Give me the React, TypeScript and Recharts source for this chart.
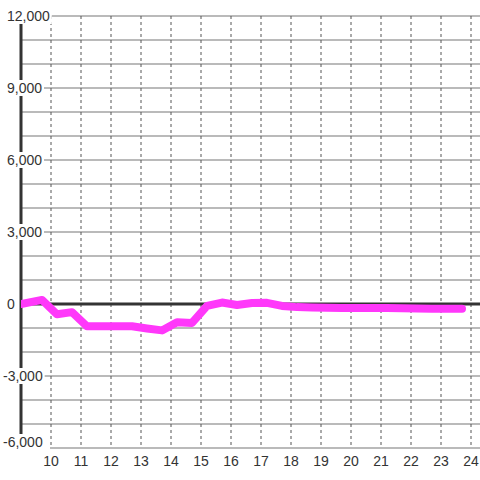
import React from 'react';
import { LineChart, Line, XAxis, YAxis, CartesianGrid, ReferenceLine } from 'recharts';

const hours = [9.0, 9.7, 10.2, 10.7, 11.2, 11.7, 12.2, 12.7, 13.2, 13.7, 14.2, 14.7, 15.2, 15.7, 16.2, 16.7, 17.2, 17.7, 18.2, 18.7, 19.2, 19.7, 20.2, 20.7, 21.2, 21.7, 22.2, 22.7, 23.2, 23.7];
const values = [0, 170, -430, -340, -930, -930, -930, -930, -1020, -1100, -760, -790, -80, 60, -40, 40, 50, -80, -130, -150, -160, -170, -170, -170, -170, -180, -190, -200, -200, -200];

const xTicks = [10, 11, 12, 13, 14, 15, 16, 17, 18, 19, 20, 21, 22, 23, 24];
const yLabelTicks = [-6000, -3000, 0, 3000, 6000, 9000, 12000];
const yGridValues = [-6000, -5000, -4000, -3000, -2000, -1000, 0, 1000, 2000, 3000, 4000, 5000, 6000, 7000, 8000, 9000, 10000, 11000, 12000];
const yDomain = [-6000, 12000];
const xDomain = [9, 24.3];

const data = hours.map((h, i) => ({ h, v: values[i] }));

const FONT = '"Liberation Sans", Arial, sans-serif';

const charW: Record<string, number> = { '-': 4.66, ',': 3.89 };
const textWidth = (s: string) => s.split('').reduce((a, c) => a + (charW[c] ?? 7.78), 0);

const renderYTick = (props: any) => {
  const { y, payload } = props;
  const val = Number(payload.value);
  const label = val.toLocaleString('en-US');
  const tx = val < 0 ? 3 : 7;
  const cy = val === yDomain[0] ? y - 6 : y;
  const w = textWidth(label);
  const rectW = val === yDomain[0] ? 50 - (tx - 1) : w + 3;
  return (
    <g key={`yt-${val}`}>
      <rect x={tx - 1} y={cy - 8} width={rectW} height={16} fill="#ffffff" />
      <text x={tx} y={cy} dy="0.36em" textAnchor="start" fontSize={14} fill="#333333" fontFamily={FONT}>
        {label}
      </text>
    </g>
  );
};

export default function App() {
  return (
    <div style={{ position: 'absolute', left: 0, top: 0, width: 480, height: 480, background: '#fff', fontFamily: FONT }}>
      <LineChart width={480} height={480} data={data} margin={{ top: 16, right: 0, left: 0, bottom: 0 }}>
        <CartesianGrid horizontal={true} vertical={false} horizontalValues={yGridValues} stroke="#777777" strokeWidth={1.2} />
        <CartesianGrid horizontal={false} vertical={true} verticalValues={xTicks} stroke="#555555" strokeDasharray="3 3" />
        <XAxis
          type="number"
          dataKey="h"
          domain={xDomain}
          ticks={xTicks}
          interval={0}
          allowDataOverflow
          axisLine={false}
          tickLine={false}
          height={32}
          tick={{ fontSize: 14, fill: '#333333', fontFamily: FONT }}
        />
        <YAxis
          type="number"
          domain={yDomain}
          ticks={yLabelTicks}
          interval={0}
          width={21}
          tickLine={false}
          axisLine={{ stroke: '#333333', strokeWidth: 3 }}
          tick={renderYTick}
        />
        <ReferenceLine y={0} stroke="#333333" strokeWidth={3} />
        <Line
          type="linear"
          dataKey="v"
          stroke="#ff38fa"
          strokeWidth={8}
          strokeLinejoin="round"
          strokeLinecap="round"
          dot={false}
          activeDot={false}
          isAnimationActive={false}
          zIndex={1000}
        />
      </LineChart>
    </div>
  );
}
